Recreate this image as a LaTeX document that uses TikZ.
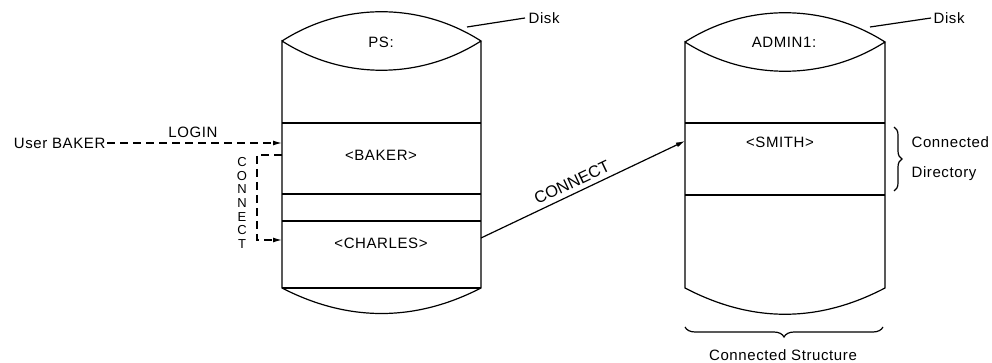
\documentclass[tikz,border=0pt]{standalone}
\usepackage{fontspec}
\setmainfont[LetterSpace=4]{Liberation Sans}
\newfontfamily\plainsans{Liberation Sans}
\usetikzlibrary{arrows.meta,decorations.pathreplacing}
\begin{document}
\begin{tikzpicture}[x=1pt,y=-1pt,
  line width=1.2pt,
  lbl/.style={font=\fontsize{15}{17}\selectfont, inner sep=0pt, text height=11pt, text depth=0pt},
  dsh/.style={dash pattern=on 8pt off 5pt},
  arr/.style={-{Latex[length=9pt,width=5pt]}},
  brc/.style={decorate, decoration={brace, amplitude=#1}},
]
\useasboundingbox (0,0) rectangle (992,363);

% left cylinder
\coordinate (LTL) at (282,41); \coordinate (LTR) at (481,41);
\coordinate (LBL) at (282,288); \coordinate (LBR) at (481,288);
\draw (LTL) .. controls (343,2) and (420,2) .. (LTR)
      .. controls (420,80) and (343,80) .. (LTL) -- (LBL)
      .. controls (348,322) and (415,322) .. (LBR) -- (LTR);
\draw (LBL) -- (LBR);
\draw (282,123) -- (481,123);
\draw (282,194) -- (481,194);
\draw (282,221) -- (481,221);

% right cylinder
\coordinate (RTL) at (685,42); \coordinate (RTR) at (885,42);
\coordinate (RBL) at (685,288); \coordinate (RBR) at (885,288);
\draw (RTL) .. controls (746,3) and (824,3) .. (RTR)
      .. controls (824,81) and (746,81) .. (RTL) -- (RBL)
      .. controls (752,323) and (818,323) .. (RBR) -- (RTR);
\draw (685,123) -- (885,123);
\draw (685,195) -- (885,195);

% texts in cylinders
\node[lbl] (ps) at (381,42) {PS:};
\node[lbl] (baker) at (381,155) {<BAKER>};
\node[lbl] (charles) at (381,243) {<CHARLES>};
\node[lbl] (admin) at (784,42) {ADMIN1:};
\node[lbl] (smith) at (780,142) {<SMITH>};

% disk labels
\node[lbl, anchor=west, inner sep=3pt] (disk1) at (525,18) {Disk};
\coordinate (d1) at (467,27);
\draw (d1) -- (disk1.west);
\node[lbl, anchor=west, inner sep=2pt] (disk2) at (931,18) {Disk};
\coordinate (d2) at (870,27);
\draw (d2) -- (disk2.west);

% login
\node[lbl, anchor=east, inner sep=1pt] (user) at (107,143) {User BAKER};
\coordinate (loginend) at (282,143);
\draw[dsh, arr] (user.east) -- (loginend);
\node[lbl] (login) at (193,132) {LOGIN};

% connect bracket
\coordinate (bs) at (282,155);
\coordinate (be) at (282,240);
\draw[dsh, arr] (bs) -- ++(-25,0) |- (be);
\node[font=\fontsize{13}{13.6}\selectfont, align=center, inner sep=0pt] (vc) at (242,203) {C\\O\\N\\N\\E\\C\\T};

% connect diagonal
\coordinate (cs) at (481,238);
\coordinate (ce) at (685,141);
\draw[arr] (cs) -- node[lbl, font=\plainsans\fontsize{16.5}{18}\selectfont, sloped, above=5pt, pos=0.47] (clbl) {CONNECT} (ce);

% braces
\draw[brc=8pt] (894,127) -- (894,191);
\node[lbl, anchor=west] (cd1) at (911,142) {Connected};
\node[lbl, anchor=west] (cd2) at (911,172) {Directory};
\draw[brc=10pt] (883,327) -- (685,327);
\node[lbl] (cs2) at (783,355) {Connected Structure};
\end{tikzpicture}
\end{document}
